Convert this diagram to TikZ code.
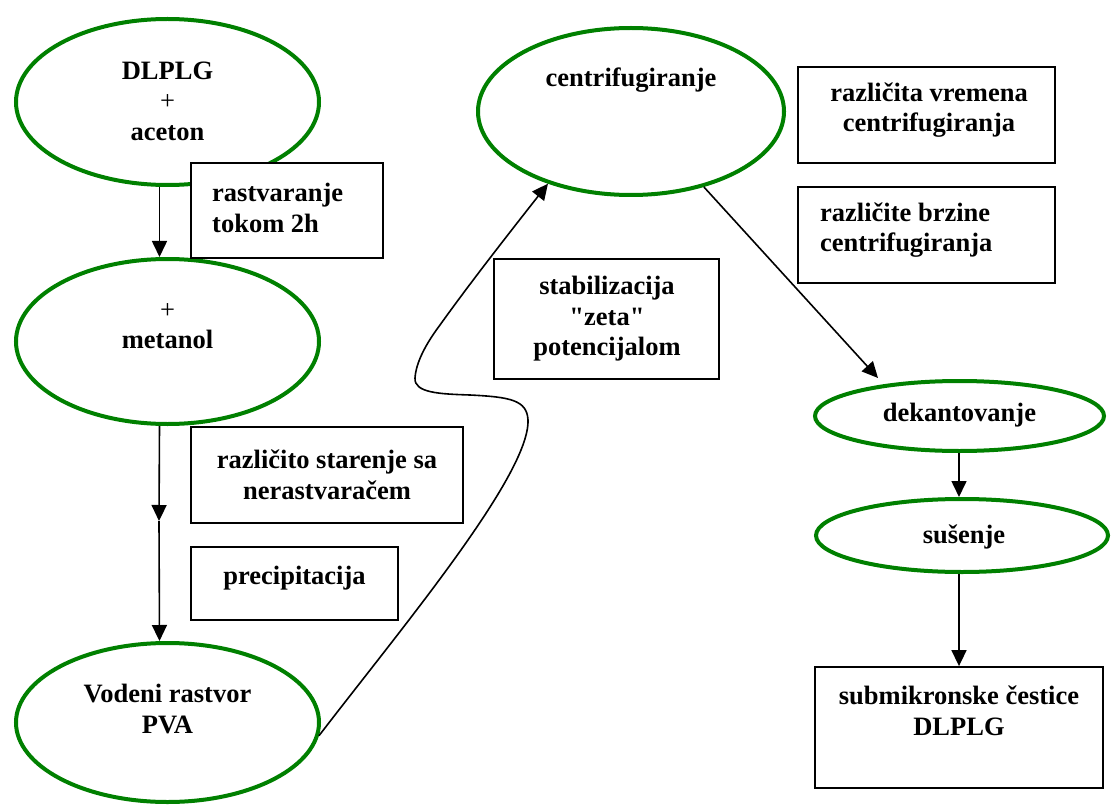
\documentclass[tikz,border=0pt]{standalone}
\usepackage{fontspec}
\setmainfont{Liberation Serif}[Ligatures=TeXOff]
\usetikzlibrary{arrows.meta,shapes.geometric,calc}
\definecolor{ovalgreen}{RGB}{0,128,0}
\tikzset{
 oval/.style={ellipse, draw=ovalgreen, line width=4pt, inner sep=0pt},
 box/.style={rectangle, draw=black, fill=white, line width=1.8pt, inner sep=0pt},
 lbl/.style={font=\fontsize{26.5}{30.5}\selectfont\bfseries, inner sep=0pt, align=center},
 lbll/.style={lbl, align=left},
 conn/.style={line width=1.6pt, -{Triangle[length=16pt,width=15pt]}},
}
\begin{document}
\begin{tikzpicture}[x=1pt,y=-1pt]
\useasboundingbox (0,0) rectangle (1111,805);
% ovals
\node[oval, minimum width=303pt, minimum height=166pt] (e1) at (167.5,102) {};
\node[oval, minimum width=303pt, minimum height=165pt] (e2) at (167.5,341.5) {};
\node[oval, minimum width=303pt, minimum height=159pt] (e3) at (167.5,722.5) {};
\node[oval, minimum width=306pt, minimum height=167pt] (centr) at (631,111.5) {};
\node[oval, minimum width=289pt, minimum height=70pt] (dek) at (959.5,416) {};
\node[oval, minimum width=292pt, minimum height=73pt] (sus) at (962,535.5) {};
% connectors
\coordinate (mid) at (159,521);
\coordinate (dekin) at (878,378);
\draw[conn] ($(e1.south)+(-8,0)$) -- ($(e2.north)+(-8,0)$);
\draw[conn] ($(e2.south)+(-8,0)$) -- (mid);
\draw[conn] (mid) -- ($(e3.north)+(-8,0)$);
\draw[conn] (e3.-5) .. controls (400,630) and (530,475) .. (528,420)
  .. controls (527,400) and (510,397) .. (470,395)
  .. controls (440,394) and (414,393) .. (415,378)
  .. controls (416,363) and (425,345) .. (440,325)
  .. controls (470,283) and (510,232) .. (centr.-139);
\draw[conn] (centr.-46.5) -- (dekin);
\draw[conn] ($(dek.south)+(-0.5,0)$) -- ($(sus.north)+(-3,0)$);
% boxes
\node[box, minimum width=192pt, minimum height=95pt] (b1) at (287,210.5) {};
\node[box, minimum width=272pt, minimum height=96pt] (b2) at (327,475) {};
\node[box, minimum width=207pt, minimum height=73pt] (b3) at (294.5,583.5) {};
\node[box, minimum width=225pt, minimum height=120pt] (b4) at (606.5,319) {};
\node[box, minimum width=257pt, minimum height=96pt] (b5) at (926.5,115) {};
\node[box, minimum width=257pt, minimum height=96pt] (b6) at (926.5,235) {};
\node[box, minimum width=288pt, minimum height=121pt] (b7) at (959,727.5) {};
\draw[conn] (b7.north |- sus.south) -- (b7.north);
% texts
\node[lbl] (t1) at (167.5,101) {DLPLG\\{\mdseries +}\\aceton};
\node[lbl] (t2) at (167.5,326) {{\mdseries +}\\metanol};
\node[lbl] (t3) at (167.5,709) {Vodeni rastvor\\PVA};
\node[lbl] (tc) at (631,80) {centrifugiranje};
\node[lbl] (td) at (959.5,415) {dekantovanje};
\node[lbl] (ts) at (964,537) {sušenje};
\node[lbll, anchor=west] (tb1) at (212,208) {rastvaranje\\tokom 2h};
\node[lbl] (tb2) at (327,475) {različito starenje sa\\nerastvaračem};
\node[lbl] (tb3) at (294.5,578) {precipitacija};
\node[lbl] (tb4) at (607,319) {stabilizacija\\"zeta"\\potencijalom};
\node[lbl] (tb5) at (929,110) {različita vremena\\centrifugiranja};
\node[lbll, anchor=west] (tb6) at (820,230) {različite brzine\\centrifugiranja};
\node[lbl] (tb7) at (959,711) {submikronske čestice\\DLPLG};
\end{tikzpicture}
\end{document}
